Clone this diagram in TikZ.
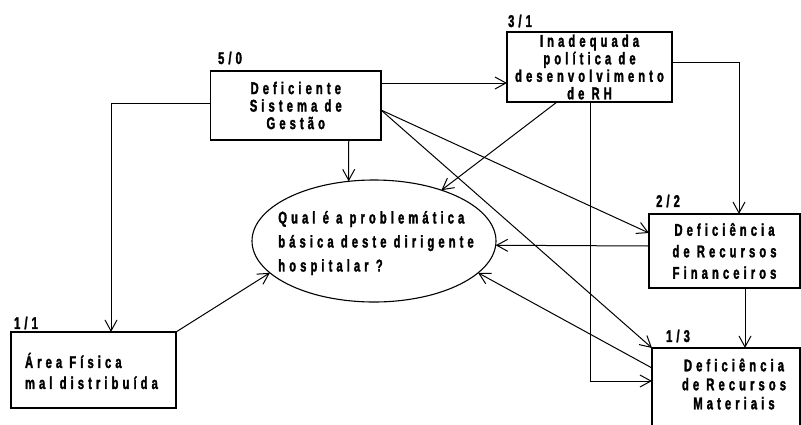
\documentclass[tikz,border=0pt]{standalone}
\usepackage{fontspec}
\setmainfont{Liberation Sans}[FakeStretch=0.66,LetterSpace=24,BoldFeatures={FakeBold=1.8}]
\usetikzlibrary{arrows.meta,shapes.geometric}
\begin{document}
\begin{tikzpicture}[x=1pt,y=-1pt,
  every node/.style={inner sep=0pt, outer sep=0pt},
  txt/.style={font=\bfseries\fontsize{17}{17.5}\selectfont, align=center},
  box/.style={draw, line width=1.1pt, rectangle},
  lab/.style={font=\bfseries\fontsize{17}{17}\selectfont},
  arr/.style={line width=1pt, -{Straight Barb[length=11pt,width=12pt,line width=1pt]}}]
\useasboundingbox (0,0) rectangle (801,424);
\clip (0,0) rectangle (801,424);
\fill[white] (0,0) rectangle (801,424);

% boxes
\node[box, txt, minimum width=170.5pt, minimum height=69pt] (A) at (295.75,105.5) {Deficiente\\Sistema de\\Gestão};
\node[box, txt, minimum width=165pt, minimum height=70pt] (B) at (589.5,67) {Inadequada\\política de\\desenvolvimento\\de RH};
\node[box, txt, minimum width=151pt, minimum height=74pt, font=\bfseries\fontsize{17}{21.5}\selectfont] (C) at (724.5,251) {Deficiência\\de Recursos\\Financeiros};
\node[box, minimum width=148pt, minimum height=84pt] (D) at (726,390) {};
\node[txt, font=\bfseries\fontsize{17}{19}\selectfont] (Dt) at (734,384) {Deficiência\\de Recursos\\Materiais};
\node[box, minimum width=165pt, minimum height=76pt] (E) at (93.5,370) {};
\node[txt, align=left, font=\bfseries\fontsize{17}{21}\selectfont, anchor=west] (Et) at (25,371) {Área Física\\mal distribuída};
\node[draw, ellipse, line width=1.1pt, minimum width=244pt, minimum height=122pt] (F) at (374,241) {};
\node[txt, align=left, font=\bfseries\fontsize{17}{24}\selectfont] (Ft) at (376,243) {Qual é a problemática\\básica deste dirigente\\hospitalar ?};

% labels
\node[lab] (lA) at (230,58) {5/0};
\node[lab] (lB) at (520,21) {3/1};
\node[lab] (lC) at (668,201) {2/2};
\node[lab] (lD) at (678,336) {1/3};
\node[lab] (lE) at (26,323) {1/1};

% connectors
\draw[arr] ([yshift=22.5pt]A.east) -- ([yshift=22.5pt]A.east -| B.west);
\draw[arr] ([yshift=2.5pt]A.west) -| ([xshift=17.5pt]E.north);
\draw[arr] ([xshift=53pt]A.south) -- (F.113);
\draw[arr] ([yshift=-4.5pt]A.east) -- ([yshift=18pt]C.west);
\draw[arr] ([yshift=-4.5pt]A.east) -- (D.north west);
\draw[arr] ([xshift=-32.5pt]B.south) -- (F.37);
\draw[arr] ([xshift=0.5pt]B.south) |- ([yshift=9pt]D.west);
\draw[arr] ([yshift=5pt]B.east) -| ([xshift=14.5pt]C.north);
\draw[arr] ([yshift=5pt]C.west) -- (F.-2);
\draw[arr] ([xshift=20.5pt]C.south) -- ([xshift=20.5pt]C.south |- D.north);
\draw[arr] ([yshift=22pt]D.west) -- (F.-17);
\draw[arr] (E.north east) -- (F.197);
\end{tikzpicture}
\end{document}
